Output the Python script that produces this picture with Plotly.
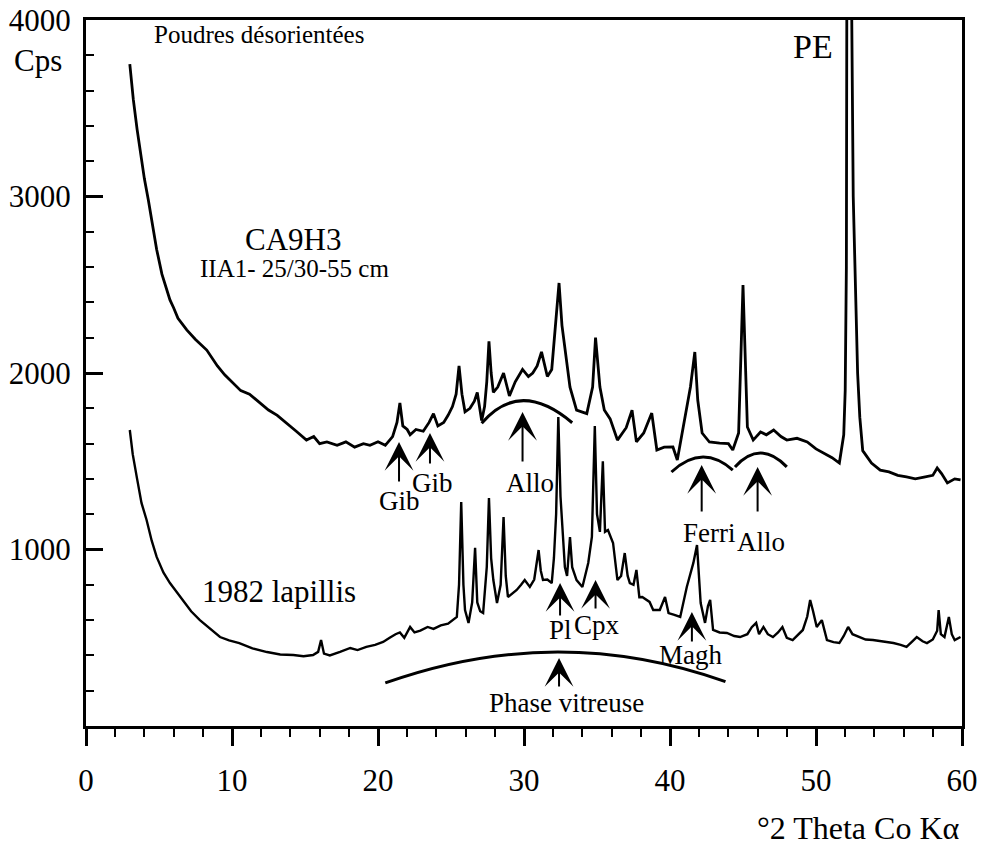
import plotly.graph_objects as go

# ---------------- data ----------------
ca9h3_x = [3.0, 3.24, 3.5, 3.8, 4.0, 4.27, 4.5, 4.84, 5.2, 5.5, 5.75, 6.0, 6.3, 6.9, 7.5, 8.27, 9.0, 9.5,
           10.07, 10.6, 11.2, 11.9, 12.5, 13.1, 13.75, 14.4, 15.1, 15.6, 16.0, 16.5, 17.2, 17.8, 18.4, 19.0,
           19.45, 20.0, 20.5, 21.0, 21.3, 21.5, 21.7, 22.0, 22.2, 22.6, 23.1, 23.5, 23.8, 24.1, 24.5, 24.8,
           25.1, 25.35, 25.55, 25.75, 25.96, 26.3, 26.6, 26.8, 27.1, 27.3, 27.45, 27.6, 27.75, 27.9, 28.2,
           28.6, 29.0, 29.4, 29.9, 30.3, 30.6, 30.9, 31.2, 31.6, 31.9, 32.1, 32.4, 32.6, 32.8, 33.15, 33.6,
           34.0, 34.3, 34.7, 34.9, 35.2, 35.5, 35.9, 36.4, 37.0, 37.4, 37.7, 38.2, 38.75, 39.1, 39.6, 40.2,
           40.5, 41.0, 41.4, 41.7, 41.9, 42.2, 42.7, 43.4, 44.0, 44.3, 44.7, 45.0, 45.15, 45.3, 45.7, 46.2,
           46.6, 47.1, 47.6, 48.0, 48.7, 49.4, 50.0, 50.5, 51.1, 51.6, 51.9, 52.0, 52.08, 52.12, 52.4, 52.55,
           52.7, 52.85, 53.0, 53.2, 53.8, 54.4, 55.0, 55.6, 56.2, 56.8, 57.4, 58.0, 58.3, 58.6, 59.0, 59.5,
           59.9]
ca9h3_y = [3750, 3550, 3380, 3210, 3100, 2980, 2870, 2700, 2560, 2480, 2414, 2370, 2310, 2244, 2190, 2130,
           2040, 1990, 1943, 1900, 1880, 1830, 1790, 1760, 1717, 1670, 1620, 1640, 1600, 1610, 1590, 1610,
           1580, 1600, 1590, 1610, 1590, 1640, 1720, 1830, 1700, 1680, 1650, 1680, 1670, 1720, 1770, 1700,
           1720, 1760, 1810, 1880, 2040, 1880, 1780, 1800, 1840, 1890, 1730, 1810, 1950, 2180, 2000, 1890,
           1920, 2000, 1870, 1950, 2020, 1980, 2000, 2040, 2120, 1980, 2020, 2200, 2510, 2270, 2150, 1920,
           1790, 1780, 1770, 1920, 2200, 1920, 1790, 1740, 1620, 1690, 1790, 1610, 1660, 1773, 1564, 1580,
           1581, 1507, 1751, 1921, 2119, 1847, 1660, 1609, 1603, 1600, 1564, 1660, 2499, 2074, 1694, 1620,
           1666, 1650, 1677, 1640, 1620, 1630, 1609, 1570, 1547, 1520, 1490, 1650, 1900, 2600, 4500, 4500,
           3000, 2400, 2000, 1750, 1560, 1490, 1450, 1440, 1420, 1411, 1400, 1410, 1420, 1462, 1430, 1377,
           1400, 1394]

lapillis_x = [3.0, 3.2, 3.5, 3.8, 4.15, 4.5, 4.84, 5.3, 5.75, 6.2, 6.65, 7.2, 7.8, 8.5, 9.18, 9.8, 10.5,
              11.4, 12.4, 13.3, 14.2, 14.9, 15.55, 15.9, 16.1, 16.3, 16.7, 17.4, 18.1, 18.6, 19.2, 19.8,
              20.35, 20.8, 21.2, 21.5, 21.8, 22.2, 22.5, 22.9, 23.4, 23.8, 24.3, 24.8, 25.1, 25.4, 25.55,
              25.7, 25.85, 25.96, 26.2, 26.45, 26.65, 26.8, 27.0, 27.2, 27.45, 27.6, 27.75, 27.9, 28.15,
              28.4, 28.6, 28.75, 28.9, 29.2, 29.5, 29.8, 30.05, 30.4, 30.7, 31.0, 31.15, 31.3, 31.6, 31.9,
              32.05, 32.2, 32.35, 32.5, 32.65, 32.8, 32.95, 33.15, 33.3, 33.6, 34.0, 34.4, 34.65, 34.85,
              35.0, 35.2, 35.4, 35.55, 35.75, 36.1, 36.4, 36.65, 36.9, 37.1, 37.25, 37.5, 37.7, 37.9, 38.1,
              38.6, 38.85, 39.3, 39.66, 39.9, 40.3, 40.7, 41.15, 41.6, 41.85, 42.1, 42.4, 42.6, 42.75,
              42.95, 43.4, 43.9, 44.4, 44.8, 45.3, 45.6, 45.9, 46.1, 46.4, 46.7, 47.05, 47.4, 47.7, 48.0,
              48.4, 48.8, 49.1, 49.4, 49.6, 49.8, 50.05, 50.4, 50.75, 51.2, 51.6, 51.9, 52.2, 52.5, 53.0,
              53.4, 53.9, 54.6, 55.3, 55.8, 56.2, 56.6, 56.9, 57.3, 57.6, 58.0, 58.3, 58.4, 58.55, 58.8,
              59.1, 59.3, 59.5, 59.9]
lapillis_y = [1677, 1540, 1400, 1264, 1167, 1050, 958, 870, 810, 760, 714, 650, 600, 550, 504, 485, 470,
              440, 419, 405, 402, 395, 402, 420, 487, 410, 400, 420, 442, 430, 448, 460, 476, 500, 520, 530,
              500, 561, 530, 540, 561, 550, 570, 580, 600, 618, 800, 1269, 800, 657, 584, 700, 1009, 700,
              650, 640, 900, 1292, 950, 827, 697, 800, 1184, 850, 731, 750, 771, 800, 827, 788, 830, 997,
              880, 827, 830, 810, 952, 1200, 1750, 1300, 1100, 900, 850, 1071, 900, 827, 788, 924, 1071,
              1700, 1200, 1100, 1500, 1100, 1110, 1037, 827, 850, 980, 850, 810, 800, 884, 730, 731, 703,
              657, 657, 731, 640, 630, 618, 788, 924, 1025, 697, 584, 680, 714, 544, 530, 527, 510, 504,
              520, 560, 584, 520, 561, 520, 504, 530, 561, 500, 487, 520, 544, 620, 714, 650, 561, 600,
              487, 475, 470, 510, 561, 520, 504, 490, 487, 480, 470, 460, 448, 480, 504, 480, 470, 490,
              540, 657, 520, 504, 618, 520, 487, 504]

x_ticks = [0, 10, 20, 30, 40, 50, 60]
y_ticks = [1000, 2000, 3000, 4000]

# annotation arrows: x, tip y, tail y
arrow_x = [21.44, 23.56, 29.9, 42.17, 46.0, 32.47, 34.9, 32.4, 41.5]
arrow_tip = [1609, 1660, 1779, 1479, 1468, 810, 827, 385, 646]
arrow_tail = [1377, 1479, 1490, 1207, 1207, 618, 657, 215, 470]

# arcs: start, apex, end
arc_x = [[27.1, 29.95, 33.3], [40.1, 42.2, 44.3], [44.45, 46.2, 48.0], [20.5, 32.2, 43.8]]
arc_y = [[1715, 1843, 1718], [1439, 1524, 1450], [1468, 1547, 1468], [244, 419, 251]]

# text labels
label_text = ["Gib", "Gib", "Allo", "Ferri", "Allo", "Pl", "Cpx", "Phase vitreuse", "Magh"]
label_x = [21.5, 23.7, 30.4, 42.7, 46.2, 32.5, 35.0, 32.9, 41.4]
label_y = [1275, 1375, 1375, 1095, 1040, 545, 575, 132, 404]

FONT = "Liberation Serif"

fig = go.Figure()
fig.add_trace(go.Scatter(x=ca9h3_x, y=ca9h3_y, mode="lines", line=dict(color="black", width=2.8),
                         name="CA9H3", showlegend=False))
fig.add_trace(go.Scatter(x=lapillis_x, y=lapillis_y, mode="lines", line=dict(color="black", width=2.4),
                         name="1982 lapillis", showlegend=False))

shapes = []
for xs, ys in zip(arc_x, arc_y):
    cy = 2 * ys[1] - (ys[0] + ys[2]) / 2
    cx = 2 * xs[1] - (xs[0] + xs[2]) / 2
    shapes.append(dict(type="path", xref="x", yref="y",
                       path=f"M {xs[0]},{ys[0]} Q {cx},{cy} {xs[2]},{ys[2]}",
                       line=dict(color="black", width=3)))

annotations = []
for ax_, tip, tail in zip(arrow_x, arrow_tip, arrow_tail):
    annotations.append(dict(x=ax_, y=tip, ax=ax_, ay=tail, axref="x", ayref="y", xref="x", yref="y",
                            text="", showarrow=True, arrowhead=3, arrowsize=2.4, arrowwidth=2,
                            arrowcolor="black"))
for t, lx, ly in zip(label_text, label_x, label_y):
    annotations.append(dict(x=lx, y=ly, text=t, showarrow=False, xref="x", yref="y",
                            font=dict(family=FONT, size=27, color="black")))

annotations += [
    dict(x=4.5, y=3920, text="Poudres désorientées", xanchor="left", showarrow=False,
         font=dict(family=FONT, size=25, color="black")),
    dict(x=-0.055, xref="paper", xanchor="center", y=0.942, yref="paper", yanchor="middle",
         text="Cps", showarrow=False,
         font=dict(family=FONT, size=31, color="black")),
    dict(x=49.76, y=3850, text="PE", showarrow=False,
         font=dict(family=FONT, size=34, color="black")),
    dict(x=14.2, y=2755, text="CA9H3", showarrow=False,
         font=dict(family=FONT, size=31, color="black")),
    dict(x=14.28, y=2590, text="IIA1- 25/30-55 cm", showarrow=False,
         font=dict(family=FONT, size=25, color="black")),
    dict(x=13.2, y=760, text="1982 lapillis", showarrow=False,
         font=dict(family=FONT, size=31, color="black")),
    dict(x=1.0, xref="paper", xanchor="right", y=-0.145, yref="paper", yanchor="middle",
         text="°2 Theta Co Kα", showarrow=False,
         font=dict(family=FONT, size=32, color="black")),
]

fig.update_layout(
    width=981, height=847,
    margin=dict(l=86, r=19, t=20, b=121, autoexpand=False),
    plot_bgcolor="white", paper_bgcolor="white",
    showlegend=False,
    shapes=shapes, annotations=annotations,
    font=dict(family=FONT, color="black"),
)
fig.update_xaxes(range=[0, 60], tickvals=x_ticks, ticks="outside", ticklen=17, tickwidth=3,
                 tickcolor="black", showline=True, linewidth=3, linecolor="black", mirror=True,
                 showgrid=False, zeroline=False, ticklabelstandoff=8, automargin=False,
                 tickfont=dict(family=FONT, size=31, color="black"),
                 minor=dict(dtick=2, ticks="outside", ticklen=8, tickwidth=2, tickcolor="black",
                            showgrid=False))
fig.update_yaxes(range=[0, 4000], tickvals=y_ticks, ticks="inside", ticklen=17, tickwidth=3,
                 tickcolor="black", showline=True, linewidth=3, linecolor="black", mirror=True,
                 showgrid=False, zeroline=False, ticklabelstandoff=6, automargin=False,
                 tickfont=dict(family=FONT, size=31, color="black"),
                 minor=dict(dtick=200, ticks="inside", ticklen=8, tickwidth=2, tickcolor="black",
                            showgrid=False))

fig.write_html("out.html", config={"displayModeBar": False},
               post_script="document.body.style.margin='0';document.body.style.overflow='hidden';")
